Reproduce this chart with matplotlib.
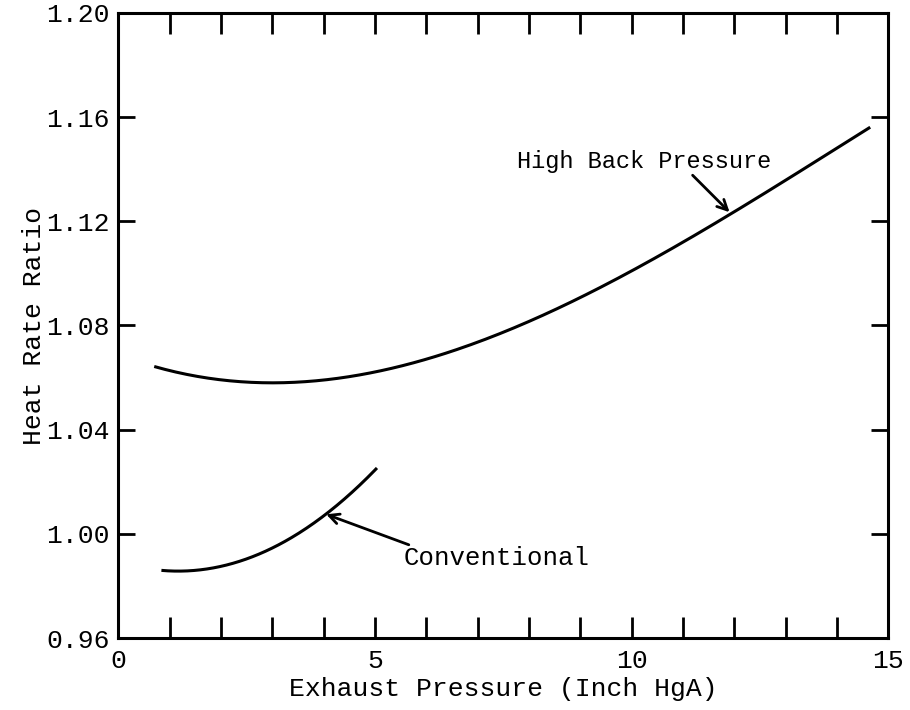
import numpy as np
import matplotlib
matplotlib.use('Agg')
import matplotlib.pyplot as plt

# curves
hbp_x = [0.7, 1.5, 2.8, 4.0, 5.47, 7.42, 8.4, 9.375, 10.84, 11.9, 13.0, 14.65]
hbp_y = [1.064, 1.061, 1.058, 1.059, 1.064, 1.077, 1.085, 1.095, 1.109, 1.123, 1.136, 1.156]

conv_x = [0.84, 2.0, 3.0, 4.0, 5.04]
conv_y = [0.986, 0.9873, 0.995, 1.0065, 1.0254]

x_ticks = list(range(0, 16))
x_labels = [str(t) if t % 5 == 0 else '' for t in x_ticks]
y_ticks = [0.96, 1.00, 1.04, 1.08, 1.12, 1.16, 1.20]
y_labels = ['0.96', '1.00', '1.04', '1.08', '1.12', '1.16', '1.20']

plt.rcParams['font.family'] = 'Liberation Mono'

fig = plt.figure(figsize=(9.1, 7.1), dpi=100)
ax = fig.add_axes([0.130, 0.1014, 0.846, 0.8803])


def smooth(xs, ys, deg=3):
    xx = np.linspace(xs[0], xs[-1], 200)
    c = np.polyfit(xs, ys, deg)
    return xx, np.polyval(c, xx)


xx, yy = smooth(hbp_x, hbp_y)
ax.plot(xx, yy, color='black', lw=2.2, solid_capstyle='butt')
xx, yy = smooth(conv_x, conv_y, deg=2)
ax.plot(xx, yy, color='black', lw=2.2, solid_capstyle='butt')

arrow = dict(arrowstyle='->', lw=2, color='black', mutation_scale=18, shrinkA=0, shrinkB=0)
ax.text(7.77, 1.1404, 'High Back Pressure', fontsize=17, ha='left', va='baseline')
ax.annotate('', xy=(11.91, 1.1235), xytext=(11.19, 1.1377), arrowprops=arrow)
ax.annotate('', xy=(4.05, 1.0075), xytext=(5.66, 0.9958), arrowprops=arrow)
ax.text(5.55, 0.988, 'Conventional', fontsize=18.5, ha='left', va='baseline')

ax.set_xlim(0, 15)
ax.set_ylim(0.96, 1.20)
ax.set_xticks(x_ticks)
ax.set_xticklabels(x_labels, fontsize=19)
ax.set_yticks(y_ticks)
ax.set_yticklabels(y_labels, fontsize=19)
ax.tick_params(axis='x', direction='in', length=15, width=2, top=True, pad=8)
ax.tick_params(axis='y', direction='in', length=12, width=2, right=True, pad=6)
for s in ax.spines.values():
    s.set_linewidth(2.2)

ax.set_xlabel('Exhaust Pressure (Inch HgA)', fontsize=19, labelpad=3)
ax.set_ylabel('Heat Rate Ratio', fontsize=19, labelpad=0)

fig.savefig('out.png', dpi=100)
